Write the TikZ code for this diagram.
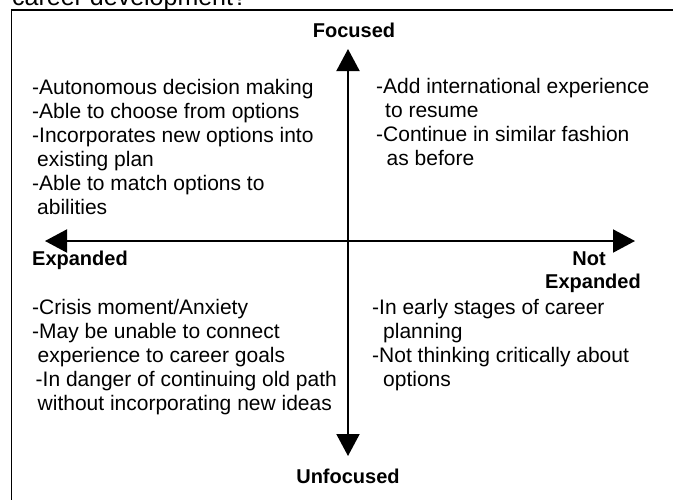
\documentclass[tikz,border=0pt]{standalone}
\usepackage{fontspec}
\setmainfont{Liberation Sans}
\usetikzlibrary{arrows.meta}
\begin{document}
\begin{tikzpicture}[x=1pt,y=-1pt,
  body/.style={anchor=base west, inner sep=0pt, font=\fontsize{21}{24}\selectfont},
  lab/.style={inner sep=0pt, font=\fontsize{20}{23}\selectfont\bfseries},
  frame/.style={line width=1.7pt},
  axis/.style={line width=2pt,
    {Triangle[length=22pt,width=23pt]}-{Triangle[length=22pt,width=23pt]}}]
\useasboundingbox (0,0) rectangle (673,499);
\clip (0,0) rectangle (673,499);
% frame (extends beyond the visible area)
\draw[frame] (11.5,10) rectangle (700,530);
% clipped heading above the frame
\node[anchor=base west, inner sep=0pt, font=\fontsize{25}{28}\selectfont] (title) at (12,5) {career development?};
% axes
\coordinate (L) at (45,241);
\coordinate (R) at (635,241);
\coordinate (T) at (348,49);
\coordinate (B) at (348,456);
\draw[axis] (L) -- (R);
\draw[axis] (B) -- (T);
% axis labels
\node[lab, anchor=base] (focused) at (354,37) {Focused};
\node[lab, anchor=base] (unfocused) at (348,483) {Unfocused};
\node[lab, anchor=base west] (expanded) at (32,265) {Expanded};
\node[lab, anchor=base east] (notexp) at (641,265) {\vtop{\halign{\hfil#\hfil\cr Not\hspace{8pt}\cr Expanded\cr}}};
% quadrant texts
\node[body] (tl) at (32,94.5) {\vtop{%
  \hbox{-Autonomous decision making}
  \hbox{-Able to choose from options}
  \hbox{-Incorporates new options into}
  \hbox{\hspace{5pt}existing plan}
  \hbox{-Able to match options to}
  \hbox{\hspace{5pt}abilities}}};
\node[body] (tr) at (376,93.5) {\vtop{%
  \hbox{-Add international experience}
  \hbox{\hspace{9pt}to resume}
  \hbox{-Continue in similar fashion}
  \hbox{\hspace{10.5pt}as before}}};
\node[body] (bl) at (32,314) {\vtop{%
  \hbox{-Crisis moment/Anxiety}
  \hbox{-May be unable to connect}
  \hbox{\hspace{5.5pt}experience to career goals}
  \hbox{\hspace{3.5pt}-In danger of continuing old path}
  \hbox{\hspace{5.5pt}without incorporating new ideas}}};
\node[body] (br) at (372,314) {\vtop{%
  \hbox{-In early stages of career}
  \hbox{\hspace{11pt}planning}
  \hbox{-Not thinking critically about}
  \hbox{\hspace{11pt}options}}};
\end{tikzpicture}
\end{document}
